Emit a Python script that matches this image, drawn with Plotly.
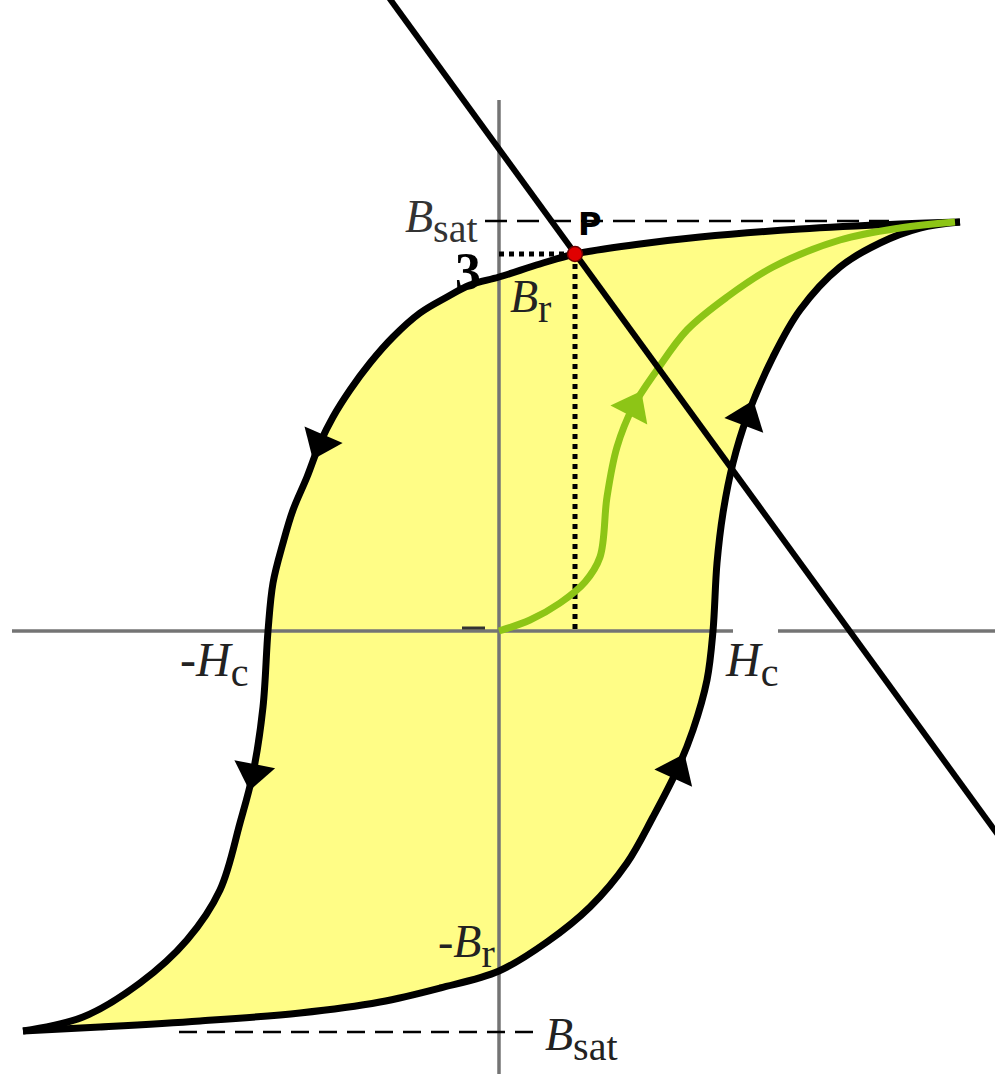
import numpy as np
import plotly.graph_objects as go

# ---- Hysteresis loop data (H, B in arbitrary units) ----
# Descending branch: from +B_sat tip down to -B_sat tip
desc_H = [4.61, 4.01, 3.01, 2.01, 1.41, 0.76, 0.41, 0.00, -0.29, -0.52, -0.79, -1.06, -1.29,
          -1.49, -1.66, -1.79, -1.92, -2.06, -2.16, -2.26, -2.31, -2.36, -2.46, -2.59, -2.79,
          -3.12, -3.59, -4.16, -4.76]
desc_B = [4.09, 4.07, 4.02, 3.94, 3.87, 3.77, 3.67, 3.54, 3.46, 3.34, 3.18, 2.94, 2.68,
          2.41, 2.14, 1.88, 1.54, 1.21, 0.88, 0.48, 0.00, -0.76, -1.42, -1.92, -2.59,
          -3.09, -3.52, -3.86, -4.00]

# Ascending branch: from -B_sat tip back up to +B_sat tip
asc_H = [-4.76, -3.99, -2.99, -1.99, -1.19, -0.59, 0.00, 0.48, 0.91, 1.28, 1.54, 1.78, 1.94,
         2.08, 2.14, 2.18, 2.24, 2.34, 2.48, 2.74, 3.01, 3.41, 3.81, 4.21, 4.61]
asc_B = [-4.00, -3.96, -3.90, -3.82, -3.71, -3.57, -3.40, -3.11, -2.76, -2.32, -1.86, -1.39, -0.99,
         -0.49, 0.00, 0.68, 1.18, 1.68, 2.14, 2.74, 3.21, 3.64, 3.88, 4.03, 4.09]

# Initial magnetisation curve from the demagnetised origin
init_H = [0.00, 0.31, 0.61, 0.86, 1.01, 1.08, 1.18, 1.34, 1.58, 1.88, 2.28, 2.74, 3.41, 4.01, 4.56]
init_B = [0.00, 0.11, 0.28, 0.49, 0.74, 1.34, 1.84, 2.24, 2.61, 3.01, 3.34, 3.64, 3.91, 4.03, 4.09]

# Load line and operating point P
load_H = [-1.20, 5.10]
load_B = [6.47, -2.19]
P_H, P_B = 0.76, 3.77

B_sat = 4.10

# Direction arrows: index on each curve where an arrowhead sits
desc_arrow_idx = [15, 22]
asc_arrow_idx = [11, 18]
init_arrow_idx = [7]

BLACK = "#000000"
AXIS = "#747474"
YELLOW = "#FFFD86"
GREEN = "#8DC516"
SERIF = "Liberation Serif, Times New Roman, serif"
SMOOTH = 1.0


def arrow_angles(hs, bs, idx):
    """Marker angle (deg, clockwise from up) along the direction of travel."""
    out = []
    for i in idx:
        dx = hs[i + 1] - hs[i - 1]
        dy = bs[i + 1] - bs[i - 1]
        out.append(float(np.degrees(np.arctan2(dx, dy))))
    return out


def sym(main, sub, prefix="", sub_px=40):
    """Italic symbol with an upright, fairly large subscript."""
    return (f"{prefix}<i>{main}</i><sub><span style='font-size:{sub_px}px'>"
            f"{sub}</span></sub>")


fig = go.Figure()

# Yellow area enclosed by the loop
fig.add_trace(go.Scatter(
    x=desc_H + asc_H[1:], y=desc_B + asc_B[1:],
    mode="lines", line=dict(width=0, shape="spline", smoothing=SMOOTH),
    fill="toself", fillcolor=YELLOW, hoverinfo="skip"))

# Coordinate axes (horizontal axis has a gap beside the H_c label)
fig.add_trace(go.Scatter(x=[0, 0], y=[5.31, -4.6], mode="lines",
                         line=dict(color=AXIS, width=3.5), hoverinfo="skip"))
fig.add_trace(go.Scatter(x=[-4.87, 2.34, None, 2.79, 5.1], y=[0, 0, None, 0, 0], mode="lines",
                         line=dict(color=AXIS, width=3.5), hoverinfo="skip"))
fig.add_trace(go.Scatter(x=[-0.37, -0.14], y=[0.03, 0.03], mode="lines",
                         line=dict(color="#333333", width=3), hoverinfo="skip"))

# Saturation levels
fig.add_trace(go.Scatter(x=[-0.14, 3.9], y=[B_sat, B_sat], mode="lines",
                         line=dict(color=BLACK, width=2.5, dash="22px,10px"), hoverinfo="skip"))
fig.add_trace(go.Scatter(x=[-3.2, 0.41], y=[-B_sat + 0.09, -B_sat + 0.09], mode="lines",
                         line=dict(color=BLACK, width=2.5, dash="18px,10px"), hoverinfo="skip"))

# Projections of P onto the axes
fig.add_trace(go.Scatter(x=[0, P_H], y=[P_B, P_B], mode="lines",
                         line=dict(color=BLACK, width=5, dash="dot"), hoverinfo="skip"))
fig.add_trace(go.Scatter(x=[P_H, P_H], y=[P_B, 0], mode="lines",
                         line=dict(color=BLACK, width=5, dash="dot"), hoverinfo="skip"))

# Loop outline
fig.add_trace(go.Scatter(x=desc_H, y=desc_B, mode="lines",
                         line=dict(color=BLACK, width=7, shape="spline", smoothing=SMOOTH),
                         hoverinfo="skip"))
fig.add_trace(go.Scatter(x=asc_H, y=asc_B, mode="lines",
                         line=dict(color=BLACK, width=7, shape="spline", smoothing=SMOOTH),
                         hoverinfo="skip"))

# Initial magnetisation curve
fig.add_trace(go.Scatter(x=init_H, y=init_B, mode="lines",
                         line=dict(color=GREEN, width=7, shape="spline", smoothing=SMOOTH),
                         hoverinfo="skip"))

# Arrowheads
for hs, bs, idx, col in [(desc_H, desc_B, desc_arrow_idx, BLACK),
                         (asc_H, asc_B, asc_arrow_idx, BLACK),
                         (init_H, init_B, init_arrow_idx, GREEN)]:
    fig.add_trace(go.Scatter(
        x=[hs[i] for i in idx], y=[bs[i] for i in idx], mode="markers",
        marker=dict(symbol="triangle-up", size=36, color=col,
                    angle=arrow_angles(hs, bs, idx), line=dict(width=0)),
        hoverinfo="skip"))

# Load line
fig.add_trace(go.Scatter(x=load_H, y=load_B, mode="lines",
                         line=dict(color=BLACK, width=6), hoverinfo="skip"))

# Operating point
fig.add_trace(go.Scatter(x=[P_H], y=[P_B], mode="markers",
                         marker=dict(size=15, color="#E00000", line=dict(color="#700000", width=1.5)),
                         hoverinfo="skip"))

# Text labels
labels = [
    (sym("B", "sat"), -0.19, 4.10, "right", SERIF, 46, "#333333"),
    ("<b>3</b>", -0.31, 3.60, "center", SERIF, 52, BLACK),
    ("<b>P</b>", 0.90, 4.07, "center", "DejaVu Sans, sans-serif", 32, BLACK),
    (sym("B", "r"), 0.09, 3.30, "left", SERIF, 46, "#222222"),
    (sym("H", "c", "-"), -2.49, -0.33, "right", SERIF, 48, "#222222"),
    (sym("H", "c"), 2.24, -0.33, "left", SERIF, 48, "#222222"),
    (sym("B", "r", "-"), -0.02, -3.15, "right", SERIF, 46, "#222222"),
    (sym("B", "sat"), 0.44, -4.08, "left", SERIF, 46, "#222222"),
]
for text, x, y, anchor, family, size, color in labels:
    fig.add_annotation(x=x, y=y, xref="x", yref="y", text=text, showarrow=False,
                       xanchor=anchor, yanchor="middle",
                       font=dict(family=family, size=size, color=color))

fig.update_layout(
    width=995, height=1074,
    margin=dict(l=0, r=0, t=0, b=0, pad=0),
    paper_bgcolor="white", plot_bgcolor="white",
    showlegend=False,
    xaxis=dict(range=[-4.99, 4.96], visible=False, fixedrange=True),
    yaxis=dict(range=[-4.43, 6.31], visible=False, fixedrange=True),
)

fig.write_html("out.html")
